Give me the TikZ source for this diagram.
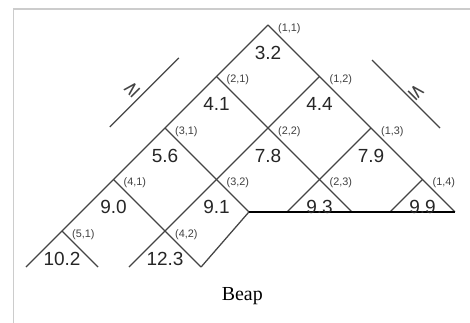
\documentclass[tikz,border=0pt]{standalone}
\usepackage{fontspec}
\setmainfont{Liberation Serif}
\setsansfont{Liberation Sans}
\newfontfamily\symfont{DejaVu Sans}
\usetikzlibrary{positioning}
\definecolor{linegray}{HTML}{444444}
\definecolor{framegray}{HTML}{CCCCCC}

\begin{document}
\begin{tikzpicture}[
    font=\sffamily,
    edge/.style={draw=linegray, line width=0.7pt},
    cut/.style={draw=black, line width=1.1pt},
    frame/.style={draw=framegray, line width=0.6pt},
    val/.style={font=\fontsize{10.5}{12}\sffamily, text=black!85, inner sep=0pt},
    idx/.style={font=\fontsize{6}{7}\sffamily, text=black!75, inner sep=0pt, anchor=west},
    order/.style={font=\fontsize{11}{13}\symfont, text=linegray, inner sep=0pt}
]
\useasboundingbox (-5.204,0.485) rectangle (3.922,-5.786);

% Thumbnail frame
\coordinate (fr1) at (-4.95,-5.786);
\coordinate (fr2) at (-4.95,0.31);
\coordinate (fr3) at (3.922,0.31);
\draw[frame] (fr1) -- (fr2) -- (fr3);

% Lattice vertices (i,j)
\foreach \i/\j in {1/1,2/1,3/1,4/1,5/1,1/2,2/2,3/2,4/2,1/3,2/3,1/4}{
    \coordinate (v\i\j) at ({\j-\i},{-(\i+\j-2)});
}

% Cut ends at the bottom
\coordinate (b1) at (-4.7,-4.7);
\coordinate (b2) at (-3.3,-4.7);
\coordinate (b3) at (-2.7,-4.7);
\coordinate (b4) at (-1.3,-4.7);
\coordinate (c1) at (-0.37,-3.63);
\coordinate (c2) at (0.37,-3.63);
\coordinate (c3) at (1.63,-3.63);
\coordinate (c4) at (2.37,-3.63);
\coordinate (c5) at (3.63,-3.63);

% Grid lines
\foreach \a/\b in {v11/b1,v11/c5,v12/b3,v21/c3,v13/c2,v31/c1,v41/b4,v51/b2,v14/c4,b4/c1}{
    \draw[edge] (\a) -- (\b);
}
\draw[cut] (c1) -- (c5);

% Values
\foreach \v/\t in {v11/3.2,v21/4.1,v12/4.4,v31/5.6,v22/7.8,v13/7.9,v41/9.0,v32/9.1,v23/9.3,v14/9.9,v51/10.2,v42/12.3}{
    \node[val] (n\v) at ([yshift=-0.54cm]\v) {\t};
}

% Index labels
\foreach \i/\j in {1/1,2/1,3/1,4/1,5/1,1/2,2/2,3/2,4/2,1/3,2/3,1/4}{
    \node[idx] (i\i\j) at ([shift={(0.19,-0.07)}]v\i\j) {(\i,\j)};
}

% Order guides
\coordinate (gl1) at (-3.07,-1.98);
\coordinate (gl2) at (-1.73,-0.64);
\coordinate (gr1) at (2.02,-0.68);
\coordinate (gr2) at (3.34,-2.0);
\draw[edge] (gl1) -- (gl2);
\draw[edge] (gr1) -- (gr2);
\node[order, rotate=45] (ge) at (-2.64,-1.26) {≥};
\node[order, rotate=-45] (le) at (2.89,-1.30) {≤};

% Caption
\node[font=\fontsize{11}{13}\selectfont\rmfamily] (cap) at (-0.5,-5.26) {Beap};

\end{tikzpicture}
\end{document}
